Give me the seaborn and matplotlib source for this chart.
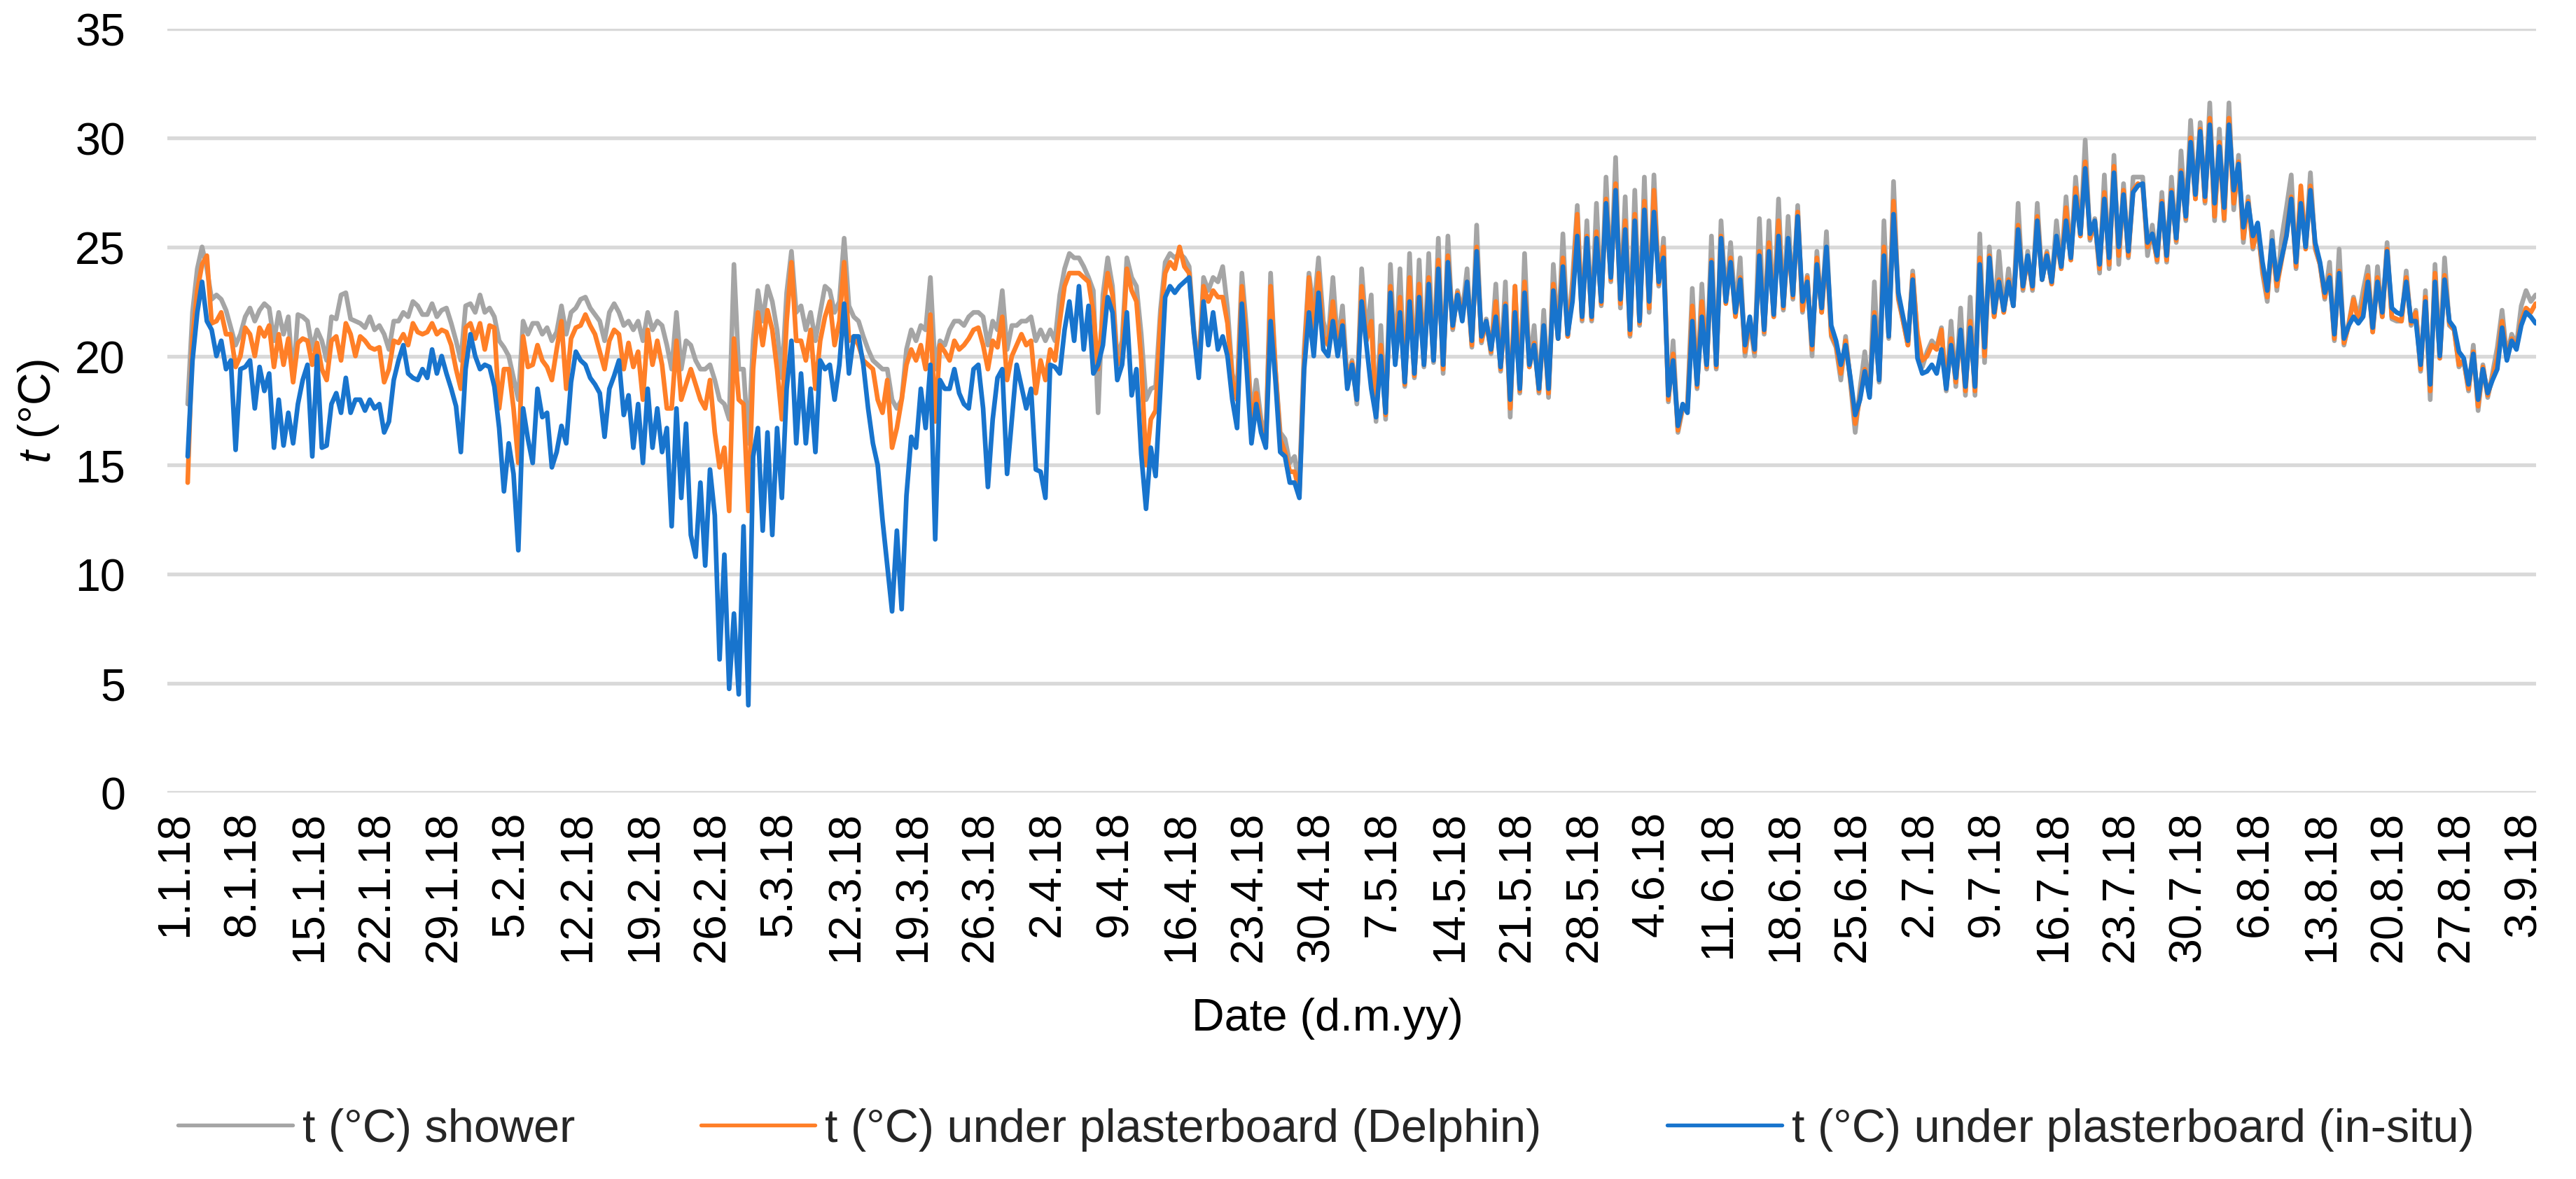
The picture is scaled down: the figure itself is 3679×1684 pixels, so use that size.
import numpy as np
import pandas as pd
import seaborn as sns
import matplotlib.pyplot as plt

# Readings every 12 h, first one on 2.1.18 06:00
first_reading = "2018-01-02 06:00"

shower = [
    # 2.1. - 10.2.
    17.8, 22.0, 24.0, 25.0, 24.0, 22.6, 22.8, 22.6, 22.1, 21.3,
    20.5, 21.0, 21.8, 22.2, 21.6, 22.1, 22.4, 22.2, 20.7, 22.0,
    21.0, 21.8, 18.9, 21.9, 21.8, 21.6, 20.3, 21.2, 20.7, 19.8,
    21.8, 21.7, 22.8, 22.9, 21.7, 21.6, 21.5, 21.3, 21.8, 21.2,
    21.4, 21.0, 20.3, 21.6, 21.6, 22.0, 21.8, 22.5, 22.3, 21.9,
    21.9, 22.4, 21.8, 22.1, 22.2, 21.5, 20.7, 19.8, 22.3, 22.4,
    22.0, 22.8, 22.0, 22.2, 21.8, 20.7, 20.4, 20.0, 19.0, 18.0,
    21.6, 21.0, 21.5, 21.5, 21.0, 21.3, 20.7, 21.1, 22.3,
    # 10.2. - 23.3.
    21.0, 22.0, 22.2, 22.6, 22.7, 22.2, 21.9, 21.6, 20.7, 22.0,
    22.4, 22.0, 21.4, 21.6, 21.2, 21.6, 20.7, 22.0, 21.2, 21.6,
    21.4, 20.5, 19.4, 22.0, 19.4, 20.7, 20.5, 19.8, 19.4, 19.4,
    19.6, 18.9, 18.0, 17.8, 17.1, 24.2, 19.4, 19.4, 16.0, 20.7,
    23.0, 21.6, 23.2, 22.5, 21.2, 19.0, 22.9, 24.8, 22.0, 22.3,
    21.2, 22.0, 20.7, 22.0, 23.2, 23.0, 22.0, 22.5, 25.4, 22.3,
    21.8, 21.6, 20.9, 20.3, 19.8, 19.6, 19.4, 19.4, 18.0, 17.6,
    18.0, 20.3, 21.2, 20.7, 21.4, 21.2, 23.6, 19.4, 20.7, 20.5,
    21.2, 21.6,
    # 23.3. - 2.5.
    21.6, 21.4, 21.8, 22.0, 22.0, 21.8, 20.5, 21.6, 21.2, 23.0,
    20.3, 21.4, 21.4, 21.6, 21.6, 21.8, 20.7, 21.2, 20.7, 21.2,
    20.7, 22.8, 24.0, 24.7, 24.5, 24.5, 24.1, 23.6, 23.0, 17.4,
    22.8, 24.5, 23.2, 19.8, 20.7, 24.5, 23.6, 23.2, 21.0, 18.0,
    18.5, 18.6, 22.1, 24.3, 24.7, 24.5, 24.7, 24.5, 24.1, 21.2,
    19.4, 23.6, 23.0, 23.6, 23.4, 24.1, 22.2, 19.2, 18.3, 23.8,
    21.2, 17.1, 18.9, 17.1, 16.2, 23.8, 19.4, 16.5, 16.2, 15.1,
    15.4, 14.0, 20.3, 23.8, 22.1, 24.5, 21.6, 20.7, 23.6, 20.5,
    22.3, 18.9,
    # 3.5. - 12.6.
    19.8, 17.8, 24.0, 21.0, 22.8, 17.0, 21.4, 17.1, 24.2, 19.8,
    24.0, 18.6, 24.7, 19.0, 24.4, 19.5, 24.7, 19.7, 25.4, 19.2,
    25.5, 21.2, 23.0, 22.0, 24.0, 20.4, 26.0, 20.6, 21.7, 20.1,
    23.3, 19.3, 23.4, 17.2, 23.2, 18.3, 24.7, 19.5, 21.4, 18.3,
    22.1, 18.1, 24.2, 20.8, 25.6, 20.9, 23.5, 26.9, 21.6, 26.2,
    21.6, 27.0, 22.3, 28.2, 23.4, 29.1, 22.2, 27.3, 20.9, 27.6,
    21.4, 28.2, 22.0, 28.3, 23.2, 25.4, 17.9, 20.7, 16.5, 17.6,
    17.8, 23.1, 18.5, 23.3, 19.4, 25.5, 19.4, 26.2, 22.5, 25.2,
    22.0, 24.5, 20.0,
    # 13.6. - 23.7.
    21.6, 20.0, 26.3, 21.0, 26.2, 21.8, 27.2, 22.1, 26.4, 22.6,
    26.9, 22.0, 23.7, 20.0, 24.8, 22.0, 25.7, 20.9, 20.4, 18.9,
    20.9, 18.8, 16.5, 18.5, 20.2, 18.2, 23.4, 18.8, 26.2, 20.8,
    28.0, 22.6, 21.6, 20.5, 23.9, 20.8, 19.5, 20.2, 20.7, 20.4,
    21.3, 18.4, 21.6, 18.6, 22.2, 18.2, 22.7, 18.2, 25.6, 19.7,
    25.0, 21.8, 24.8, 22.0, 24.0, 22.3, 27.0, 23.0, 24.8, 23.0,
    27.0, 23.5, 24.8, 23.3, 26.2, 24.0, 27.3, 24.4, 28.2, 25.5,
    29.9, 25.3, 26.3, 23.8, 28.3, 24.0, 29.2, 24.2, 27.9, 24.5,
    28.2, 28.2,
    # 24.7. - 3.9.
    28.2, 24.6, 26.0, 24.3, 27.5, 24.3, 28.2, 25.2, 29.4, 26.2,
    30.8, 27.2, 30.7, 27.0, 31.6, 26.2, 30.4, 26.2, 31.6, 26.7,
    29.2, 25.2, 27.3, 24.9, 26.0, 23.8, 22.5, 25.7, 23.0, 25.4,
    26.8, 28.3, 24.0, 27.5, 25.0, 28.4, 24.9, 24.2, 22.6, 24.3,
    20.7, 24.9, 20.5, 21.5, 22.7, 21.7, 23.0, 24.1, 21.1, 24.1,
    21.8, 25.2, 21.7, 21.6, 21.6, 23.9, 21.4, 22.1, 19.3, 23.0,
    18.0, 24.2, 19.9, 24.5, 21.4, 21.2, 19.5, 19.8, 18.4, 20.5,
    17.5, 19.6, 18.1, 19.2, 20.4, 22.1, 20.0, 21.0, 20.5, 22.3,
    23.0, 22.5, 22.8,
]

delphin = [
    # 2.1. - 10.2.
    14.2, 20.8, 23.0, 24.2, 24.6, 21.5, 21.6, 22.0, 21.0, 21.0,
    19.5, 20.0, 21.3, 21.0, 20.0, 21.3, 20.9, 21.4, 19.5, 21.0,
    19.6, 20.8, 18.8, 20.6, 20.8, 20.7, 19.6, 20.6, 19.4, 18.9,
    20.7, 20.9, 19.8, 21.5, 21.0, 20.0, 20.9, 20.7, 20.4, 20.3,
    20.4, 18.8, 19.4, 20.7, 20.6, 21.0, 20.5, 21.5, 21.1, 21.0,
    21.1, 21.5, 21.0, 21.2, 21.1, 20.5, 19.4, 18.5, 21.3, 21.5,
    20.8, 21.5, 20.3, 21.4, 21.3, 17.6, 19.4, 19.4, 17.6, 15.1,
    20.9, 19.5, 19.6, 20.5, 19.8, 19.5, 18.9, 20.3, 21.6,
    # 10.2. - 23.3.
    18.5, 20.8, 21.3, 21.4, 21.9, 21.4, 21.0, 20.2, 19.4, 20.7,
    21.2, 21.0, 19.4, 20.6, 19.5, 20.2, 18.0, 21.2, 19.6, 20.7,
    19.6, 17.6, 17.6, 20.7, 18.0, 18.7, 19.4, 18.7, 18.0, 17.6,
    18.9, 16.5, 14.9, 15.8, 12.9, 20.8, 18.0, 17.8, 12.9, 19.4,
    22.0, 20.5, 22.1, 21.2, 19.4, 17.1, 21.6, 24.3, 20.7, 20.7,
    19.8, 21.2, 18.5, 20.7, 21.8, 22.5, 20.5, 21.6, 24.3, 20.7,
    20.9, 20.5, 19.8, 19.6, 19.4, 18.0, 17.4, 18.9, 15.8, 16.7,
    18.0, 19.6, 20.3, 19.8, 20.5, 19.4, 21.9, 17.0, 20.5, 20.2,
    19.8, 20.7,
    # 23.3. - 2.5.
    20.3, 20.5, 20.8, 21.2, 21.3, 20.5, 19.4, 20.7, 20.4, 21.8,
    18.9, 20.0, 20.5, 21.0, 20.5, 20.7, 18.3, 19.8, 18.9, 20.3,
    19.8, 21.6, 23.2, 23.8, 23.8, 23.8, 23.6, 23.4, 22.0, 19.4,
    22.0, 23.8, 22.8, 19.6, 20.0, 24.0, 23.0, 22.5, 19.8, 15.0,
    17.1, 17.5, 21.6, 23.8, 24.3, 24.0, 25.0, 24.1, 23.8, 21.0,
    19.4, 23.2, 22.5, 23.0, 22.7, 22.7, 21.5, 18.9, 18.0, 23.2,
    20.7, 16.7, 18.3, 16.7, 16.0, 23.2, 19.4, 16.2, 15.6, 14.7,
    14.7, 13.8, 19.8, 23.6, 21.2, 23.8, 20.9, 20.5, 22.5, 20.3,
    21.6, 18.7,
    # 3.5. - 12.6.
    19.7, 18.0, 23.2, 20.7, 21.6, 17.3, 20.5, 17.3, 23.2, 19.7,
    22.7, 18.7, 23.6, 19.1, 23.3, 19.6, 23.6, 19.8, 24.4, 19.4,
    24.6, 21.3, 22.9, 21.8, 23.4, 20.5, 25.0, 20.7, 21.6, 20.2,
    22.5, 19.4, 22.4, 17.6, 23.2, 18.4, 23.4, 19.5, 20.6, 18.4,
    21.4, 18.3, 23.3, 20.8, 24.5, 20.9, 23.0, 26.5, 21.7, 25.5,
    21.7, 25.7, 22.4, 27.2, 23.5, 27.9, 22.4, 26.2, 21.0, 26.5,
    21.5, 27.1, 22.2, 27.6, 23.3, 25.0, 18.0, 20.1, 16.6, 17.7,
    17.6, 22.3, 18.6, 22.5, 19.5, 24.4, 19.5, 25.5, 22.4, 24.5,
    21.8, 23.6, 20.2,
    # 13.6. - 23.7.
    21.7, 20.2, 24.8, 21.1, 25.2, 21.8, 26.2, 22.2, 25.3, 22.7,
    26.6, 22.1, 23.6, 20.3, 24.5, 22.0, 24.9, 21.0, 20.5, 19.2,
    20.7, 18.9, 16.9, 18.1, 19.4, 18.2, 22.0, 18.9, 25.0, 20.9,
    27.1, 22.7, 21.6, 20.5, 23.7, 21.0, 19.8, 20.0, 20.5, 20.3,
    21.2, 18.5, 20.8, 18.8, 21.2, 18.4, 21.6, 18.4, 24.5, 20.0,
    24.6, 21.8, 23.5, 22.0, 23.5, 22.3, 26.0, 23.1, 24.5, 23.1,
    26.4, 23.5, 24.7, 23.3, 25.4, 24.0, 26.8, 24.4, 27.7, 25.5,
    28.9, 25.4, 26.2, 24.0, 27.5, 24.2, 28.7, 24.6, 27.6, 24.6,
    27.6, 27.9,
    # 24.7. - 3.9.
    27.8, 25.0, 25.6, 24.4, 27.1, 24.4, 27.6, 25.3, 28.5, 26.3,
    30.0, 27.2, 30.4, 27.1, 30.9, 26.4, 29.8, 26.3, 30.9, 27.0,
    28.9, 25.4, 27.1, 25.0, 25.9, 24.0, 22.7, 25.2, 23.2, 24.4,
    25.6, 27.3, 24.1, 27.8, 24.9, 27.8, 25.0, 24.2, 22.7, 23.7,
    20.8, 23.9, 20.6, 21.4, 22.6, 21.6, 22.4, 23.7, 21.1, 23.6,
    21.8, 24.9, 21.8, 21.7, 21.6, 23.6, 21.5, 22.0, 19.4, 22.7,
    18.4, 23.8, 19.9, 23.7, 21.5, 21.2, 19.6, 19.8, 18.5, 20.2,
    17.7, 19.5, 18.2, 19.0, 19.9, 21.6, 19.9, 20.8, 20.4, 21.6,
    22.2, 22.0, 22.4,
]

insitu = [
    # 2.1. - 10.2.
    15.4, 19.8, 22.0, 23.4, 21.6, 21.2, 20.0, 20.7, 19.4, 19.8,
    15.7, 19.4, 19.5, 19.8, 17.6, 19.5, 18.4, 19.2, 15.8, 18.0,
    15.9, 17.4, 16.0, 17.8, 18.9, 19.6, 15.4, 20.0, 15.8, 15.9,
    17.8, 18.3, 17.4, 19.0, 17.4, 18.0, 18.0, 17.5, 18.0, 17.6,
    17.8, 16.5, 17.0, 18.9, 19.8, 20.5, 19.2, 19.0, 18.9, 19.4,
    19.0, 20.3, 19.2, 20.0, 19.2, 18.5, 17.7, 15.6, 19.4, 21.0,
    20.0, 19.4, 19.6, 19.5, 18.6, 16.7, 13.8, 16.0, 14.6, 11.1,
    17.6, 16.2, 15.1, 18.5, 17.2, 17.4, 14.9, 15.6, 16.8,
    # 10.2. - 23.3.
    16.0, 18.8, 20.2, 19.8, 19.6, 19.0, 18.7, 18.3, 16.3, 18.5,
    19.1, 19.8, 17.3, 18.2, 15.8, 17.8, 15.1, 18.5, 15.8, 17.6,
    15.6, 16.7, 12.2, 17.6, 13.5, 16.9, 11.8, 10.8, 14.2, 10.4,
    14.8, 12.7, 6.1, 10.9, 4.75, 8.2, 4.5, 12.2, 4.0, 15.4,
    16.7, 12.0, 16.5, 11.8, 16.7, 13.5, 18.5, 20.7, 16.0, 19.2,
    16.0, 18.5, 15.6, 19.8, 19.4, 19.6, 18.0, 19.6, 22.4, 19.2,
    20.9, 20.9, 19.6, 17.6, 16.0, 15.0, 12.5, 10.4, 8.3, 12.0,
    8.4, 13.6, 16.3, 15.8, 18.5, 16.7, 19.6, 11.6, 18.9, 18.5,
    18.5, 19.4,
    # 23.3. - 2.5.
    18.3, 17.8, 17.6, 19.4, 19.6, 17.6, 14.0, 17.1, 19.0, 19.4,
    14.6, 17.1, 19.6, 18.6, 17.6, 18.5, 14.8, 14.7, 13.5, 19.6,
    19.5, 19.2, 21.2, 22.5, 20.7, 23.2, 20.3, 22.3, 19.2, 19.6,
    20.5, 22.7, 22.0, 18.9, 19.6, 22.0, 18.2, 19.4, 15.5, 13.0,
    15.8, 14.5, 18.5, 22.7, 23.2, 22.9, 23.2, 23.4, 23.6, 21.0,
    19.0, 22.5, 20.5, 22.0, 20.3, 20.9, 20.0, 18.0, 16.7, 22.4,
    19.4, 16.0, 17.8, 16.5, 15.8, 21.6, 18.9, 15.6, 15.4, 14.2,
    14.2, 13.5, 19.4, 22.0, 20.0, 22.9, 20.3, 20.0, 21.6, 20.0,
    21.4, 18.5,
    # 3.5. - 12.6.
    19.6, 18.0, 22.5, 20.5, 18.5, 17.2, 20.0, 17.4, 22.9, 19.6,
    22.0, 18.8, 22.5, 19.2, 22.7, 19.6, 23.3, 19.8, 24.0, 19.6,
    24.3, 21.4, 22.8, 21.6, 23.4, 20.7, 24.8, 20.9, 21.6, 20.3,
    21.8, 19.5, 22.3, 18.0, 22.0, 18.5, 22.9, 19.6, 20.5, 18.5,
    21.4, 18.5, 23.0, 20.8, 24.1, 21.0, 22.5, 25.5, 21.8, 25.4,
    21.8, 25.4, 22.5, 27.0, 23.6, 27.6, 22.6, 25.8, 21.2, 26.2,
    21.6, 26.7, 22.5, 26.6, 23.4, 24.5, 18.2, 19.8, 16.8, 17.8,
    17.4, 21.6, 18.7, 21.8, 19.6, 24.3, 19.6, 25.4, 22.5, 24.3,
    22.0, 23.5, 20.5,
    # 13.6. - 23.7.
    21.8, 20.3, 24.6, 21.2, 24.8, 21.9, 25.5, 22.3, 25.4, 22.8,
    26.4, 22.5, 23.4, 20.5, 24.2, 22.2, 25.0, 21.4, 20.7, 19.6,
    20.5, 19.0, 17.3, 18.0, 19.3, 18.1, 21.8, 18.9, 24.6, 20.9,
    26.5, 22.9, 21.8, 20.7, 23.5, 19.9, 19.2, 19.3, 19.6, 19.2,
    20.3, 18.5, 20.5, 19.0, 21.2, 18.6, 21.3, 18.6, 24.2, 20.4,
    24.5, 22.0, 23.4, 22.1, 23.4, 22.3, 25.8, 23.2, 24.6, 23.2,
    26.2, 23.5, 24.6, 23.4, 25.5, 24.1, 26.2, 24.5, 27.3, 25.6,
    28.6, 25.6, 26.2, 24.2, 27.2, 24.5, 28.4, 25.0, 27.4, 24.8,
    27.5, 27.8,
    # 24.7. - 3.9.
    27.9, 25.2, 25.6, 24.6, 27.0, 24.6, 27.5, 25.4, 28.4, 26.4,
    29.8, 27.4, 30.3, 27.3, 30.6, 27.0, 29.6, 26.8, 30.6, 27.6,
    28.8, 25.9, 27.0, 25.5, 26.1, 24.3, 23.0, 25.3, 23.5, 24.5,
    25.5, 27.2, 24.3, 27.0, 25.0, 27.6, 25.2, 24.3, 22.9, 23.6,
    21.0, 23.8, 20.8, 21.4, 21.8, 21.5, 21.8, 23.4, 21.3, 23.4,
    22.0, 24.8, 22.2, 22.0, 21.9, 23.4, 21.6, 21.6, 19.6, 22.5,
    18.7, 23.4, 20.0, 23.5, 21.6, 21.3, 20.2, 19.9, 18.7, 20.1,
    18.0, 19.4, 18.3, 18.9, 19.4, 21.3, 19.8, 20.7, 20.3, 21.4,
    22.0, 21.8, 21.5,
]

series_names = [
    "t (°C) shower",
    "t (°C) under plasterboard (Delphin)",
    "t (°C) under plasterboard (in-situ)",
]
series_colors = ["#A5A5A5", "#FF7F27", "#1874CD"]

week_ticks = pd.date_range("2018-01-01", "2018-09-03", freq="7D")
tick_labels = [f"{d.day}.{d.month}.{d:%y}" for d in week_ticks]

assert len(shower) == len(delphin) == len(insitu)

times = pd.date_range(first_reading, periods=len(insitu), freq="12h")
df = pd.DataFrame(
    {
        "time": np.tile(times, 3),
        "t": shower + delphin + insitu,
        "series": np.repeat(series_names, len(times)),
    }
)

sns.set_style("white")
plt.rcParams["font.family"] = ["Liberation Sans", "DejaVu Sans"]
plt.rcParams["mathtext.fontset"] = "custom"
plt.rcParams["mathtext.it"] = "Liberation Sans:italic"
plt.rcParams["mathtext.rm"] = "Liberation Sans"

fs = 15.5
fig = plt.figure(figsize=(3679 / 300, 1685 / 300), dpi=300)
ax = fig.add_axes([0.06496, 0.3276, 0.91955, 0.6475])

sns.lineplot(
    data=df,
    x="time",
    y="t",
    hue="series",
    hue_order=series_names,
    palette=dict(zip(series_names, series_colors)),
    estimator=None,
    linewidth=1.6,
    ax=ax,
)

# Excel-like look: only horizontal grid, no spines or tick marks
ax.set_ylim(0, 35)
ax.set_yticks(range(0, 40, 5))
ax.set_xlim(
    pd.Timestamp("2018-01-01") - pd.Timedelta(hours=21),
    pd.Timestamp("2018-01-01") + pd.Timedelta(days=246.3),
)
ax.set_xticks(week_ticks)
ax.set_xticklabels(tick_labels, rotation=90)
ax.yaxis.grid(True, color="#D9D9D9", linewidth=1.3)
ax.xaxis.grid(False)
ax.set_axisbelow(True)
for side in ["top", "right", "left", "bottom"]:
    ax.spines[side].set_visible(False)
ax.tick_params(axis="y", length=0, pad=14.4, labelsize=fs, labelcolor="black")
ax.tick_params(axis="x", length=0, pad=6.2, labelsize=fs, labelcolor="black")

ax.set_ylabel("$t$ (°C)", fontsize=fs, color="black")
ax.yaxis.set_label_coords(-0.0545, 0.5)
ax.yaxis.label.set_verticalalignment("center")
ax.set_xlabel("Date (d.m.yy)", fontsize=fs, color="black")
ax.xaxis.set_label_coords(0.4898, -0.2951)
ax.xaxis.label.set_verticalalignment("center")

old = ax.get_legend()
handles = old.legend_handles
labels = [t.get_text() for t in old.get_texts()]
old.remove()
for h in handles:
    h.set_linewidth(1.3)
fig.legend(
    handles,
    labels,
    loc="center",
    bbox_to_anchor=(0.5148, 0.042),
    ncol=3,
    frameon=False,
    fontsize=16,
    handlelength=2.45,
    handletextpad=0.21,
    columnspacing=2.7,
)

fig.savefig("out.png", dpi=300)
